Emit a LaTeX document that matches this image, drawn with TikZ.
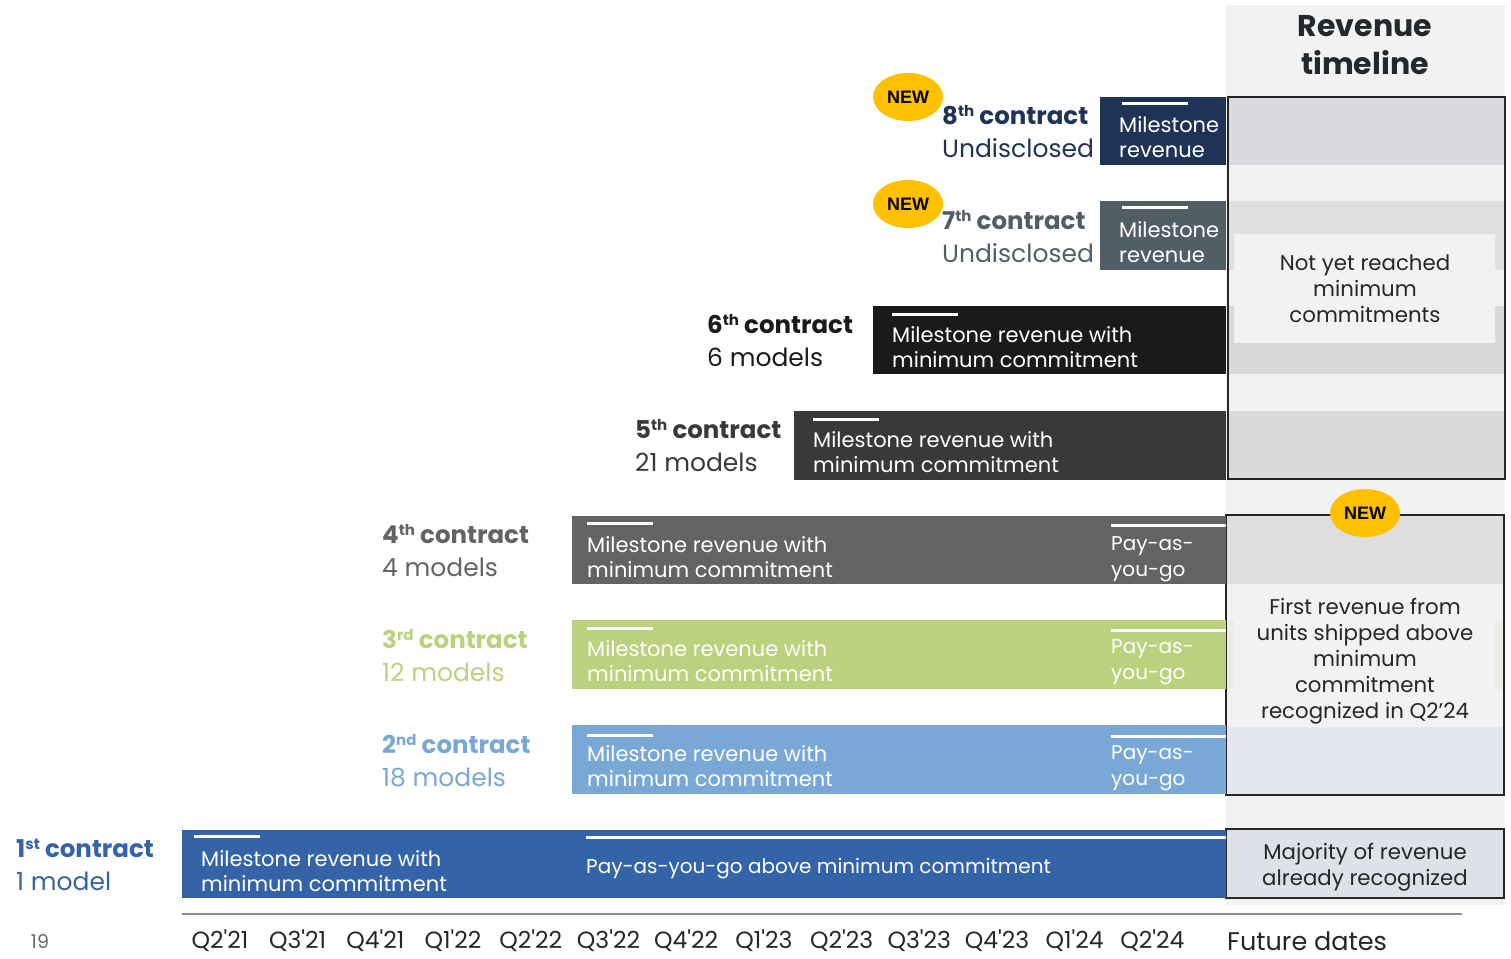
\documentclass[tikz,border=0pt]{standalone}
\usepackage{fontspec}
\usetikzlibrary{shapes.geometric}
\setmainfont{Poppins}
\newfontfamily\arialf{Liberation Sans}
\newcommand\supx[1]{\raisebox{8pt}{\fontsize{15}{15}\selectfont\bfseries #1}}
\definecolor{navy}{HTML}{1F3356}
\definecolor{slate}{HTML}{525E65}
\definecolor{blksix}{HTML}{1A1A1A}
\definecolor{dkfive}{HTML}{393939}
\definecolor{grfour}{HTML}{636363}
\definecolor{greenc}{HTML}{BAD27E}
\definecolor{lblue}{HTML}{79A8D6}
\definecolor{bluec}{HTML}{3563A8}
\definecolor{yellowc}{HTML}{FFC000}
\definecolor{panel}{HTML}{F2F2F2}
\definecolor{titlec}{HTML}{22282B}
\definecolor{stripeA}{HTML}{D9DBE0}
\definecolor{stripeB}{HTML}{DFE0E2}
\definecolor{stripeC}{HTML}{D8D8D8}
\definecolor{stripeD}{HTML}{DADADA}
\definecolor{stripeE}{HTML}{DEDEDE}
\definecolor{stripeF}{HTML}{EAEDE3}
\definecolor{stripeG}{HTML}{E3E8EF}
\definecolor{boxthree}{HTML}{DDE1E8}
\begin{document}
\begin{tikzpicture}[x=1pt,y=-1pt,
  bartxt/.style={text=white,font=\fontsize{21}{25.5}\selectfont,align=left,anchor=west,inner sep=0pt},
  paytxt/.style={text=white,font=\fontsize{20}{25.5}\selectfont,align=left,anchor=west,inner sep=0pt},
  lbltop/.style={font=\fontsize{24.5}{28}\selectfont\bfseries,anchor=base west,inner sep=0pt},
  lblbot/.style={font=\fontsize{25}{28}\selectfont,anchor=base west,inner sep=0pt},
  wline/.style={white,line width=3pt},
  newbadge/.style={ellipse,fill=yellowc,minimum width=70pt,minimum height=48pt,inner sep=0pt,font=\arialf\bfseries\fontsize{18}{20}\selectfont},
  paneltxt/.style={align=center,font=\fontsize{21.3}{26}\selectfont,text=black!85,inner sep=0pt},
  qlbl/.style={font=\fontsize{23.5}{26}\selectfont,anchor=base,inner sep=0pt,text=black!85},
  frame/.style={draw=black!85,line width=2.2pt}
]
\useasboundingbox (0,0) rectangle (1511,958);
% right panel background
\fill[panel] (1226,5) rectangle (1505,905);
\node[font=\fontsize{30}{38}\selectfont\bfseries,text=titlec,align=center] (title) at (1365,45.5) {Revenue\\timeline};

% ---- box 1 stripes
\fill[stripeA] (1228,97) rectangle (1505,165);
\fill[stripeB] (1228,201) rectangle (1505,270);
\fill[stripeC] (1228,306) rectangle (1505,374);
\fill[stripeD] (1228,411) rectangle (1505,479);
\fill[panel] (1234,234) rectangle (1495,343);
\node[paneltxt] (notyet) at (1365,289) {Not yet reached\\minimum\\commitments};
\draw[frame] (1228,97) rectangle (1505,479);

% ---- box 2
\fill[stripeE] (1226,515) rectangle (1504,584);
\fill[stripeF] (1226,620) rectangle (1504,689);
\fill[stripeG] (1226,727) rectangle (1504,795);
\fill[panel] (1234,584) rectangle (1495,727);
\node[paneltxt] (firstrev) at (1365,661) {First revenue from\\units shipped above\\minimum\\commitment\\recognized in Q2'24};
\draw[frame] (1226,515) rectangle (1504,795);
\node[newbadge] (new3) at (1365,513) {NEW};

% ---- box 3
\fill[boxthree] (1226,829) rectangle (1504,898);
\draw[frame] (1226,829) rectangle (1504,898);
\node[paneltxt] (majority) at (1365,867.5) {Majority of revenue\\already recognized};

% ---- 8th contract
\fill[navy] (1100,97) rectangle (1226,165);
\draw[wline] (1122,103) -- (1188,103);
\node[bartxt] (b8) at (1119,137) {Milestone\\revenue};
\node[newbadge] (new8) at (908,97) {NEW};
\node[lbltop,text=navy] (l8a) at (942,124) {8\supx{th} contract};
\node[lblbot,text=navy] (l8b) at (942,157) {Undisclosed};

% ---- 7th contract
\fill[slate] (1100,201) rectangle (1226,270);
\draw[wline] (1122,207) -- (1188,207);
\node[bartxt] (b7) at (1119,242) {Milestone\\revenue};
\node[newbadge] (new7) at (908,204) {NEW};
\node[lbltop,text=slate] (l7a) at (942,229) {7\supx{th} contract};
\node[lblbot,text=slate] (l7b) at (942,262) {Undisclosed};

% ---- 6th contract
\fill[blksix] (873,306) rectangle (1226,374);
\draw[wline] (892,314) -- (958,314);
\node[bartxt] (b6) at (892,347) {Milestone revenue with\\minimum commitment};
\node[lbltop,text=blksix] (l6a) at (707,333) {6\supx{th} contract};
\node[lblbot,text=blksix] (l6b) at (707,366) {6 models};

% ---- 5th contract
\fill[dkfive] (794,411) rectangle (1226,480);
\draw[wline] (813,419) -- (879,419);
\node[bartxt] (b5) at (813,452) {Milestone revenue with\\minimum commitment};
\node[lbltop,text=dkfive] (l5a) at (635,438) {5\supx{th} contract};
\node[lblbot,text=dkfive] (l5b) at (635,471) {21 models};

% ---- 4th contract
\fill[grfour] (572,516) rectangle (1226,584);
\draw[wline] (587,523) -- (653,523);
\draw[wline] (1111,525) -- (1226,525);
\node[bartxt] (b4) at (587,557) {Milestone revenue with\\minimum commitment};
\node[paytxt] (p4) at (1111,559) {Pay-as-\\you-go};
\node[lbltop,text=grfour] (l4a) at (382,543) {4\supx{th} contract};
\node[lblbot,text=grfour] (l4b) at (382,576) {4 models};

% ---- 3rd contract
\fill[greenc] (572,620) rectangle (1226,689);
\draw[wline] (587,628) -- (653,628);
\draw[wline] (1111,630) -- (1226,630);
\node[bartxt] (b3) at (587,661) {Milestone revenue with\\minimum commitment};
\node[paytxt] (p3) at (1111,662) {Pay-as-\\you-go};
\node[lbltop,text=greenc] (l3a) at (382,648) {3\supx{rd} contract};
\node[lblbot,text=greenc] (l3b) at (382,681) {12 models};

% ---- 2nd contract
\fill[lblue] (572,725) rectangle (1226,794);
\draw[wline] (587,735) -- (653,735);
\draw[wline] (1111,736) -- (1226,736);
\node[bartxt] (b2) at (587,766) {Milestone revenue with\\minimum commitment};
\node[paytxt] (p2) at (1111,768) {Pay-as-\\you-go};
\node[lbltop,text=lblue] (l2a) at (382,753) {2\supx{nd} contract};
\node[lblbot,text=lblue] (l2b) at (382,786) {18 models};

% ---- 1st contract
\fill[bluec] (182,830) rectangle (1226,898);
\draw[wline] (194,836) -- (260,836);
\draw[wline] (586,837) -- (1226,837);
\node[bartxt] (b1) at (201,871) {Milestone revenue with\\minimum commitment};
\node[paytxt] (p1) at (586,869) {Pay-as-you-go above minimum commitment};
\node[lbltop,text=bluec] (l1a) at (16,857) {1\supx{st} contract};
\node[lblbot,text=bluec] (l1b) at (16,890) {1 model};

% ---- axis
\draw[black!45,line width=1.2pt] (182,914) -- (1462,914);
\foreach \q [count=\i from 0] in {21,31,41,12,22,32,42,13,23,33,43,14,24}{
  \pgfmathtruncatemacro\qq{int(\q/10)}
  \pgfmathtruncatemacro\yy{mod(\q,10)}
  \node[qlbl] (q\i) at (220+\i*77.7,948) {Q\qq\textquotesingle2\yy};
}
\node[font=\fontsize{25.5}{28}\selectfont,anchor=base west,inner sep=0pt,text=black!85] (future) at (1227,950) {Future dates};
\node[font=\fontsize{19}{24}\selectfont,anchor=base,inner sep=0pt,text=black!60] (pagenum) at (40,948) {19};
\end{tikzpicture}
\end{document}
